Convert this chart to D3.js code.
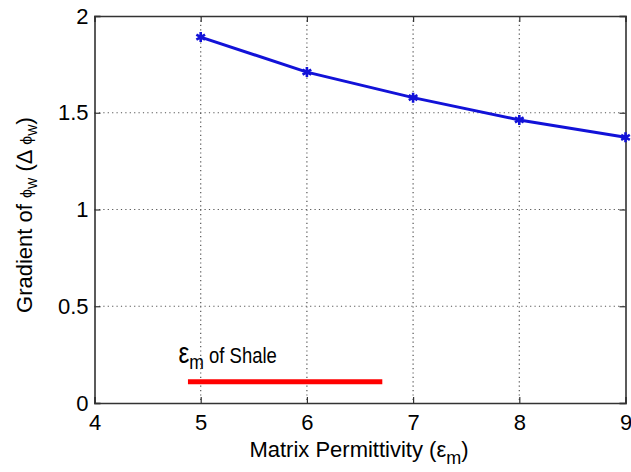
<!DOCTYPE html>
<html><head><meta charset="utf-8">
<script src="https://cdn.jsdelivr.net/npm/d3@7"></script>
<style>body{margin:0;background:#fff}svg{display:block}text{font-family:"Liberation Sans",Arial,sans-serif;fill:#000}</style>
</head><body><svg id="c" width="631" height="472"></svg>
<script>
const permittivity = [5, 6, 7, 8, 9];
const gradient = [1.891, 1.710, 1.578, 1.463, 1.373];
const xTicks = [4, 5, 6, 7, 8, 9];
const yTicks = [0, 0.5, 1, 1.5, 2];
const yTickLabels = ["0", "0.5", "1", "1.5", "2"];
const shaleRange = [4.88, 6.71];
const shaleLevel = 0.11;

const svg = d3.select("#c");
const L = 94.5, R = 625.5, T = 16, B = 403;
const x = d3.scaleLinear().domain([4, 9]).range([L, R]);
const y = d3.scaleLinear().domain([0, 2]).range([B, T]);

// grid
const g = svg.append("g");
g.selectAll(".gx").data(xTicks.filter(d => d > 4 && d < 9)).join("line")
  .attr("x1", d => x(d)).attr("x2", d => x(d)).attr("y1", T).attr("y2", B)
  .attr("stroke", "#555").attr("stroke-width", 1.2).attr("stroke-dasharray", "1.2,3.2");
g.selectAll(".gy").data(yTicks.filter(d => d > 0 && d < 2)).join("line")
  .attr("x1", L).attr("x2", R).attr("y1", d => y(d)).attr("y2", d => y(d))
  .attr("stroke", "#555").attr("stroke-width", 1.2).attr("stroke-dasharray", "1.2,3.2");

// axes (MATLAB style box with inward ticks)
const tickLen = 6;
const axB = svg.append("g").attr("transform", `translate(0,${B})`)
  .call(d3.axisBottom(x).tickValues(xTicks).tickSize(-tickLen).tickPadding(12).tickFormat(d3.format("d")));
const axT = svg.append("g").attr("transform", `translate(0,${T})`)
  .call(d3.axisTop(x).tickValues(xTicks).tickSize(-tickLen).tickFormat(""));
const axL = svg.append("g").attr("transform", `translate(${L},0)`)
  .call(d3.axisLeft(y).tickValues(yTicks).tickSize(-tickLen).tickPadding(6).tickFormat((d, i) => yTickLabels[i]));
const axR = svg.append("g").attr("transform", `translate(${R},0)`)
  .call(d3.axisRight(y).tickValues(yTicks).tickSize(-tickLen).tickFormat(""));
[axB, axT, axL, axR].forEach(a => {
  a.selectAll("path").attr("stroke", "#333").attr("stroke-width", 1.6);
  a.selectAll("line").attr("stroke", "#333").attr("stroke-width", 1.2);
  a.selectAll("text").style("font-size", "22px").style("fill", "#000")
   .style("font-family", '"Liberation Sans",Arial,sans-serif');
});
axB.selectAll("text").attr("dy", "0.68em");

// data line
const line = d3.line().x((d, i) => x(permittivity[i])).y(d => y(d));
svg.append("path").datum(gradient).attr("d", line)
  .attr("fill", "none").attr("stroke", "#1212d8").attr("stroke-width", 3);
const mk = d3.symbol().type(d3.symbolAsterisk).size(70);
svg.selectAll(".m").data(gradient).join("path")
  .attr("d", mk).attr("transform", (d, i) => `translate(${x(permittivity[i])},${y(d)})`)
  .attr("fill", "none").attr("stroke", "#1212d8").attr("stroke-width", 2.6);

// shale range
svg.append("line").attr("x1", x(shaleRange[0])).attr("x2", x(shaleRange[1]))
  .attr("y1", y(shaleLevel)).attr("y2", y(shaleLevel))
  .attr("stroke", "#ff0000").attr("stroke-width", 5);
const st = svg.append("text").attr("transform", `translate(${x(4.79)},363) scale(0.84,1)`).style("font-size", "22px");
st.append("tspan").text("ε").style("font-size", "29px");
st.append("tspan").text("m").attr("dy", 6).style("font-size", "21px");
st.append("tspan").text(" of Shale").attr("dy", -6);

// axis labels
const xl = svg.append("text").attr("x", (L + R) / 2 - 1).attr("y", 457).attr("text-anchor", "middle")
  .style("font-size", "22px");
xl.append("tspan").text("Matrix Permittivity (ε");
xl.append("tspan").text("m").attr("dy", 7).style("font-size", "18px");
xl.append("tspan").text(")").attr("dy", -7);

const yl = svg.append("text").attr("transform", "translate(32,215) rotate(-90)").attr("text-anchor", "middle")
  .style("font-size", "22px");
yl.append("tspan").text("Gradient of ");
yl.append("tspan").text("ϕ").style("font-size", "16px");
yl.append("tspan").text("W").attr("dy", 5).style("font-size", "12px");
yl.append("tspan").text(" (Δ ").attr("dy", -5);
yl.append("tspan").text("ϕ").style("font-size", "16px");
yl.append("tspan").text("W").attr("dy", 5).style("font-size", "12px");
yl.append("tspan").text(")").attr("dy", -5);
</script></body></html>
